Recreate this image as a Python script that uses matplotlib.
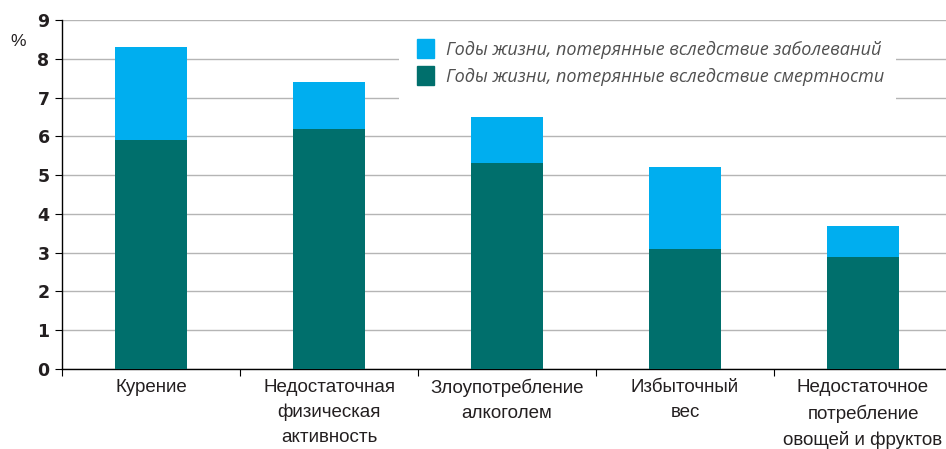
import numpy as np
import matplotlib.pyplot as plt
from matplotlib.patches import Patch, Rectangle

categories = ["Курение", "Недостаточная\nфизическая\nактивность", "Злоупотребление\nалкоголем",
              "Избыточный\nвес", "Недостаточное\nпотребление\nовощей и фруктов"]
total = [8.3, 7.4, 6.5, 5.2, 3.7]
mortality = [5.9, 6.2, 5.3, 3.1, 2.9]
disease = [t - m for t, m in zip(total, mortality)]

dark = "#006f6c"
light = "#00aeef"

fig = plt.figure(figsize=(9.46, 4.49), dpi=100)
ax = fig.add_axes([62/946, 80/449, 890/946, 349/449])

x = np.arange(len(categories))
ax.bar(x, mortality, width=0.41, color=dark, zorder=3)
ax.bar(x, disease, width=0.41, bottom=mortality, color=light, zorder=3)

ax.set_xlim(-0.5, 4.5)
ax.set_ylim(0, 9)
ax.set_yticks(range(10))
ax.set_yticklabels([str(i) for i in range(10)], fontsize=12.5, fontweight="bold",
                   family="DejaVu Sans", color="#231f20")
ax.yaxis.grid(True, color="#b5b5b5", lw=1)
ax.set_axisbelow(True)

ax.set_xticks(np.arange(-0.5, 4.6, 1))
ax.set_xticklabels([])
ax.set_xticks(x, minor=True)
ax.set_xticklabels(categories, minor=True, fontsize=13.5, family="Liberation Sans",
                   color="#231f20", linespacing=1.6)
ax.tick_params(axis="x", which="minor", length=0, pad=7)
ax.tick_params(axis="x", which="major", length=5, width=0.8)
ax.tick_params(axis="y", length=5, width=0.8, pad=4)

for s in ["top", "right"]:
    ax.spines[s].set_visible(False)
ax.spines["left"].set_linewidth(1)
ax.spines["bottom"].set_linewidth(1)

fig.text(18/946, 1 - 42/449, "%", fontsize=12.5, color="#231f20", ha="center", va="center",
         family="Liberation Sans")

# white box behind legend, hides grid lines 8 and 7
ax.add_patch(Rectangle((399/946, 1 - 102/449), 497/946, 79/449, transform=fig.transFigure,
                       facecolor="white", edgecolor="none", zorder=2, clip_on=False))

handles = [Patch(color=light), Patch(color=dark)]
labels = ["Годы жизни, потерянные вследствие заболеваний", "Годы жизни, потерянные вследствие смертности"]
leg = ax.legend(handles, labels, loc="upper left", bbox_to_anchor=(400/946, 1 - 22/449),
                bbox_transform=fig.transFigure, frameon=False,
                handlelength=0.95, handleheight=1.25, handletextpad=0.65,
                labelspacing=0.4, borderpad=0.45,
                prop={"family": "Open Sans", "style": "italic", "size": 13})
for t in leg.get_texts():
    t.set_color("#505050")
leg.set_zorder(5)

fig.savefig("out.png", dpi=100)
